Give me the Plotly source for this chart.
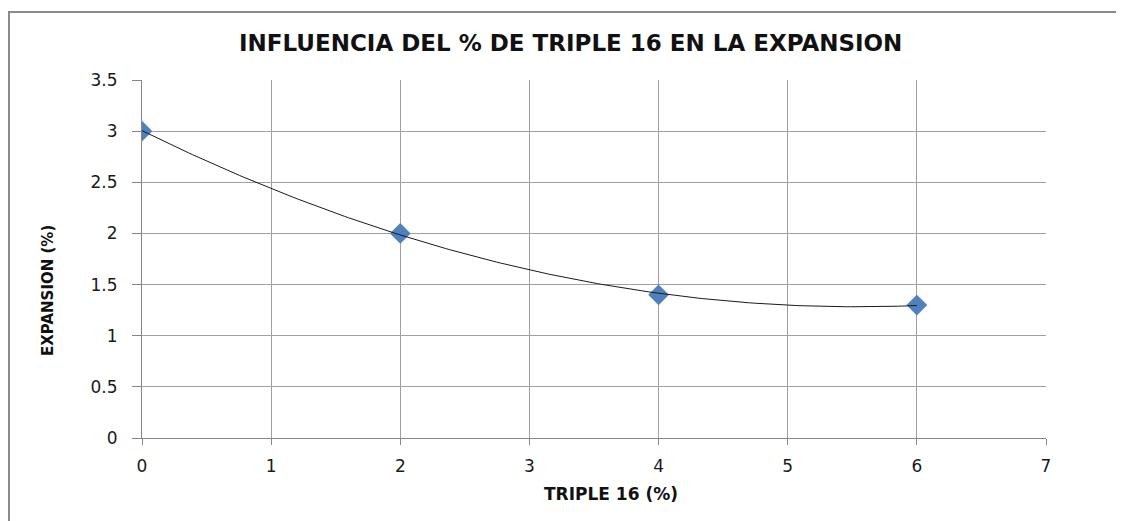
import numpy as np
import plotly.graph_objects as go

# Data
triple16 = [0, 2, 4, 6]
expansion = [3.0, 2.0, 1.4, 1.3]
x_ticks = [0, 1, 2, 3, 4, 5, 6, 7]
y_ticks = [0, 0.5, 1, 1.5, 2, 2.5, 3, 3.5]
title_text = "INFLUENCIA DEL % DE TRIPLE 16 EN LA EXPANSION"
x_title = "TRIPLE 16 (%)"
y_title = "EXPANSION (%)"

# Polynomial (order 2) trendline, as in the original spreadsheet chart
coef = np.polyfit(triple16, expansion, 2)
xt = np.linspace(min(triple16), max(triple16), 200)
yt = np.polyval(coef, xt)

OFF = 8  # page body margin
W, H = 1124 - OFF, 521 - OFF
L, T = 142 - OFF, 80 - OFF
R = W - (1046 - OFF)
B = H - (438 - OFF)
pw, ph = W - L - R, H - T - B

fig = go.Figure()
fig.add_trace(go.Scatter(
    x=triple16, y=expansion, mode="markers",
    marker=dict(symbol="diamond", size=16, color="#4F81BD",
                line=dict(width=0)),
    showlegend=False, hoverinfo="x+y"))
fig.add_trace(go.Scatter(
    x=xt, y=yt, mode="lines",
    line=dict(color="#1a1a1a", width=1),
    showlegend=False, hoverinfo="skip"))

grid = "#A0A0A0"
axis_col = "#868686"
tick_font = dict(family="DejaVu Sans", size=17, color="#1a1a1a")

fig.update_xaxes(range=[0, 7], tickvals=x_ticks, ticktext=[str(v) for v in x_ticks],
                 showgrid=True, gridcolor=grid, gridwidth=1,
                 showline=True, linecolor=axis_col, linewidth=1,
                 ticks="outside", ticklen=6, tickcolor=axis_col,
                 tickfont=tick_font, zeroline=False, fixedrange=True,
                 ticklabelstandoff=7)
fig.update_yaxes(range=[0, 3.5], tickvals=y_ticks, ticktext=[f"{v:g}" for v in y_ticks],
                 showgrid=True, gridcolor=grid, gridwidth=1,
                 showline=True, linecolor=axis_col, linewidth=1,
                 ticks="outside", ticklen=9, tickcolor=axis_col,
                 tickfont=tick_font, zeroline=False, fixedrange=True,
                 ticklabelstandoff=11)

def px_x(p):
    return (p - OFF - L) / pw

def px_y(p):
    return 1 - (p - OFF - T) / ph

fig.update_layout(
    width=W, height=H, autosize=False,
    margin=dict(l=L, r=R, t=T, b=B),
    paper_bgcolor="white", plot_bgcolor="white",
    shapes=[dict(type="rect", xref="paper", yref="paper",
                 x0=px_x(9), x1=px_x(1140), y0=px_y(540), y1=px_y(12),
                 line=dict(color="#8A8A8A", width=2), fillcolor="rgba(0,0,0,0)",
                 layer="below")],
    annotations=[
        dict(text=f"<b>{title_text}</b>", xref="paper", yref="paper",
             x=px_x(570), y=px_y(43), xanchor="center", yanchor="middle",
             showarrow=False, font=dict(family="DejaVu Sans", size=23, color="#111")),
        dict(text=f"<b>{x_title}</b>", xref="paper", yref="paper",
             x=px_x(611), y=px_y(494), xanchor="center", yanchor="middle",
             showarrow=False, font=dict(family="DejaVu Sans", size=17, color="#111")),
        dict(text=f"<b>{y_title}</b>", xref="paper", yref="paper",
             x=px_x(48), y=px_y(291), xanchor="center", yanchor="middle",
             textangle=-90, showarrow=False,
             font=dict(family="DejaVu Sans", size=15, color="#111")),
    ],
)

fig.write_html("out.html")
